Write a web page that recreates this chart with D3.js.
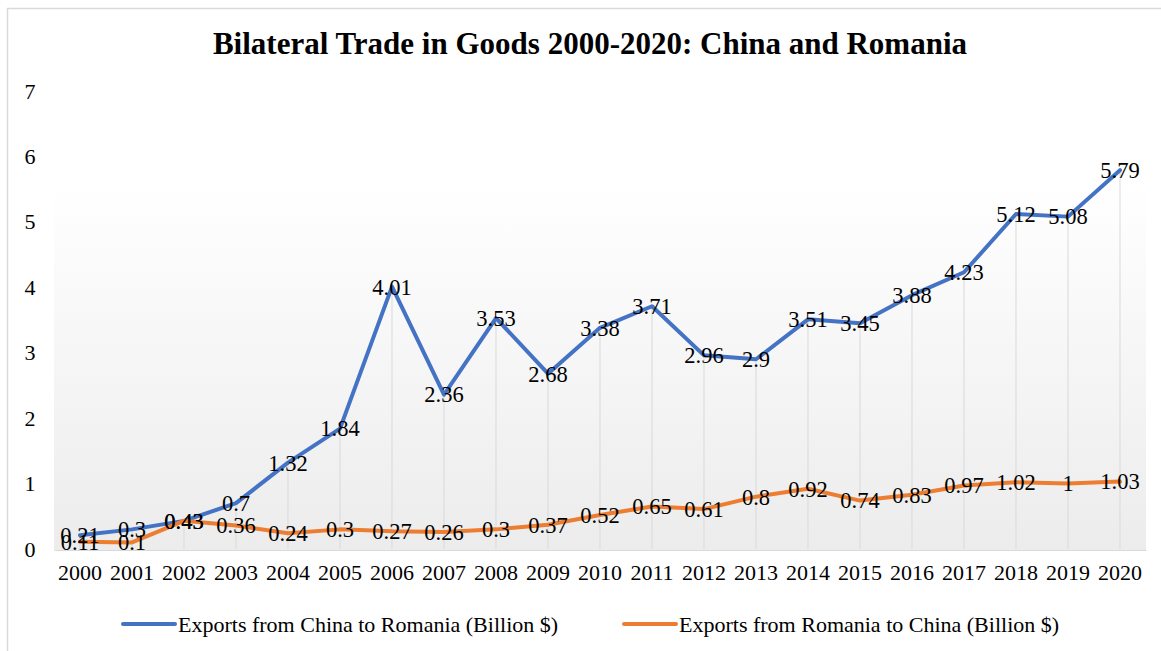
<!DOCTYPE html>
<html>
<head>
<meta charset="utf-8">
<script src="https://cdn.jsdelivr.net/npm/d3@7"></script>
<style>
  html, body { margin: 0; padding: 0; background: #fff; }
  svg { display: block; }
  text { font-family: "Liberation Serif", "Times New Roman", serif; fill: #000; }
</style>
</head>
<body>
<svg id="chart" width="1161" height="651"></svg>
<script>
// Bilateral trade series, billions of US dollars
const years = ["2000","2001","2002","2003","2004","2005","2006","2007","2008","2009","2010",
               "2011","2012","2013","2014","2015","2016","2017","2018","2019","2020"];
const chinaToRomania = [0.21,0.3,0.43,0.7,1.32,1.84,4.01,2.36,3.53,2.68,3.38,
                        3.71,2.96,2.9,3.51,3.45,3.88,4.23,5.12,5.08,5.79];
const romaniaToChina = [0.11,0.1,0.43,0.36,0.24,0.3,0.27,0.26,0.3,0.37,0.52,
                        0.65,0.61,0.8,0.92,0.74,0.83,0.97,1.02,1,1.03];
const yTicks = [0,1,2,3,4,5,6,7];
const seriesNames = ["Exports from China to Romania (Billion $)",
                     "Exports from Romania to China (Billion $)"];
const seriesColors = ["#4472C4", "#ED7D31"];

const svg = d3.select("#chart");
const W = 1161, H = 651;
const plot = { left: 54, right: 1146, top: 91, bottom: 550 };

// Outer chart frame
svg.append("rect").attr("x", 7.5).attr("y", 8.5).attr("width", W + 10).attr("height", H + 10)
  .attr("fill", "#fff").attr("stroke", "#d9d9d9").attr("stroke-width", 1.5);

const x = d3.scaleBand().domain(years).range([plot.left, plot.right]).padding(0);
const y = d3.scaleLinear().domain([0, 7]).range([plot.bottom - 1, plot.top]);
const cx = d => x(d) + x.bandwidth() / 2;

// Plot area background: soft vertical gradient
const defs = svg.append("defs");
const grad = defs.append("linearGradient").attr("id", "bgGrad")
  .attr("x1", 0).attr("y1", 0).attr("x2", 0).attr("y2", 1);
grad.append("stop").attr("offset", "0%").attr("stop-color", "#ffffff");
grad.append("stop").attr("offset", "20%").attr("stop-color", "#ffffff");
grad.append("stop").attr("offset", "100%").attr("stop-color", "#ececec");
svg.append("rect").attr("x", plot.left).attr("y", plot.top)
  .attr("width", plot.right - plot.left).attr("height", plot.bottom - plot.top)
  .attr("fill", "url(#bgGrad)");

// Title
svg.append("text").attr("x", 590).attr("y", 54).attr("text-anchor", "middle")
  .attr("font-size", 31).attr("font-weight", "bold")
  .text("Bilateral Trade in Goods 2000-2020: China and Romania");

// Y axis tick labels
const yAxis = d3.axisLeft(y).tickValues(yTicks).tickSize(0).tickPadding(0).tickFormat(d3.format("d"));
const gy = svg.append("g").attr("transform", "translate(36,0)").call(yAxis);
gy.select(".domain").remove();
gy.selectAll("text").attr("font-size", 22).attr("font-family", "Liberation Serif, Times New Roman, serif")
  .attr("fill", "#000").attr("text-anchor", "middle").attr("x", -6);

// X axis labels
const xAxis = d3.axisBottom(x).tickSize(0).tickPadding(0);
const gx = svg.append("g").attr("transform", `translate(0,${plot.bottom})`).call(xAxis);
gx.select(".domain").attr("stroke", "#d9d9d9");
gx.selectAll("text").attr("font-size", 22).attr("font-family", "Liberation Serif, Times New Roman, serif")
  .attr("fill", "#000").attr("y", 14);

// Drop lines from the highest point of each year down to the baseline
svg.append("g").selectAll("line").data(years).join("line")
  .attr("x1", d => cx(d)).attr("x2", d => cx(d))
  .attr("y1", (d, i) => y(Math.max(chinaToRomania[i], romaniaToChina[i])))
  .attr("y2", y(0))
  .attr("stroke", "#d9d9d9").attr("stroke-width", 1);

// Series lines
const line = d3.line().x((d, i) => cx(years[i])).y(d => y(d));
[chinaToRomania, romaniaToChina].forEach((vals, k) => {
  svg.append("path").datum(vals).attr("d", line)
    .attr("fill", "none").attr("stroke", seriesColors[k]).attr("stroke-width", 4)
    .attr("stroke-linejoin", "round").attr("stroke-linecap", "round");
});

// Data labels centred on each point
[chinaToRomania, romaniaToChina].forEach(vals => {
  svg.append("g").selectAll("text").data(vals).join("text")
    .attr("x", (d, i) => cx(years[i]))
    .attr("y", d => y(d))
    .attr("dy", "0.35em")
    .attr("text-anchor", "middle")
    .attr("font-size", 22.5)
    .text(d => String(d));
});

// Legend
const legend = [{ x: 123, name: seriesNames[0], color: seriesColors[0] },
                { x: 624, name: seriesNames[1], color: seriesColors[1] }];
const lg = svg.append("g").selectAll("g").data(legend).join("g")
  .attr("transform", d => `translate(${d.x},624)`);
lg.append("line").attr("x1", 0).attr("x2", 52).attr("y1", 0).attr("y2", 0)
  .attr("stroke", d => d.color).attr("stroke-width", 4).attr("stroke-linecap", "round");
lg.append("text").attr("x", 55).attr("y", 0).attr("dy", "0.35em")
  .attr("font-size", 22).text(d => d.name);
</script>
</body>
</html>
